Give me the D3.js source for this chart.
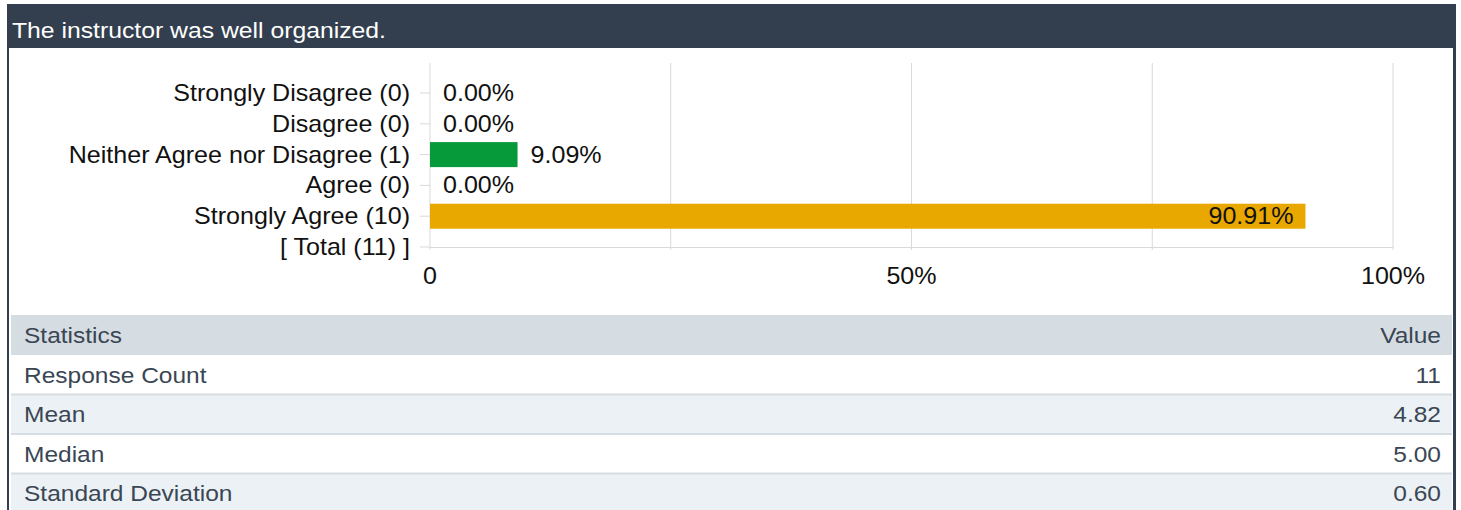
<!DOCTYPE html>
<html>
<head>
<meta charset="utf-8">
<style>
  body { margin: 0; background: #fff; }
  text { font-family: "Liberation Sans", Arial, sans-serif; }
</style>
</head>
<body>
<svg id="cont" width="1461" height="510"></svg>
<script src="https://cdn.jsdelivr.net/npm/d3@7/dist/d3.min.js"></script>
<script>
// data
var title = "The instructor was well organized.";
var categories = ["Strongly Disagree", "Disagree", "Neither Agree nor Disagree", "Agree", "Strongly Agree"];
var counts = [0, 0, 1, 0, 10];
var barColors = ["#c0392b", "#e67e22", "#079a3b", "#2e86c1", "#e8a800"];
var gridTicks = [0, 25, 50, 75, 100];
var tickLabels = ["0", "", "50%", "", "100%"];
var statNames = ["Response Count", "Mean", "Median", "Standard Deviation"];
var statValues = ["11", "4.82", "5.00", "0.60"];

var total = d3.sum(counts);
var rows = categories.map((c, i) => ({label: c + " (" + counts[i] + ")", count: counts[i], pct: counts[i] / total * 100, color: barColors[i]}));
var rowLabels = rows.map(d => d.label).concat(["[ Total (" + total + ") ]"]);

var svg = d3.select("#cont");

// text is a bit wide in the original, so stretch it horizontally
function label(sel, x, y, fs, sx) {
    return sel.append("text")
        .attr("transform", d => "translate(" + (typeof x == "function" ? x(d) : x) + "," + (typeof y == "function" ? y(d) : y) + ") scale(" + sx + ",1)")
        .attr("font-size", fs);
}

// frame + header
svg.append("rect").attr("x", 7).attr("y", 4).attr("width", 1449).attr("height", 44).attr("fill", "#333f4e");
svg.append("rect").attr("x", 7).attr("y", 48).attr("width", 2).attr("height", 462).attr("fill", "#333f4e");
svg.append("rect").attr("x", 1453).attr("y", 48).attr("width", 3).attr("height", 462).attr("fill", "#333f4e");
label(svg, 12, 38, 22.5, 1.1).attr("fill", "#fff").text(title);

var x = d3.scaleLinear().domain([0, 100]).range([430, 1393]);
var y = d3.scalePoint().domain(rowLabels).range([93, 247]);
var barH = 25;
var fs = 23, sx = 1.09;

// grid
svg.selectAll(".grid").data(gridTicks.slice(1)).enter().append("line")
    .attr("x1", d => x(d)).attr("x2", d => x(d))
    .attr("y1", 63).attr("y2", 250)
    .attr("stroke", "#d9d9d9").attr("stroke-width", 1);
svg.append("line").attr("x1", x(0)).attr("x2", x(100)).attr("y1", 247.5).attr("y2", 247.5).attr("stroke", "#d9d9d9");
svg.append("line").attr("x1", x(0)).attr("x2", x(0)).attr("y1", 63).attr("y2", 250).attr("stroke", "#d9d9d9");

// left ticks + labels
svg.selectAll(".ytick").data(rowLabels).enter().append("line")
    .attr("x1", 420).attr("x2", x(0))
    .attr("y1", d => y(d)).attr("y2", d => y(d))
    .attr("stroke", "#d9d9d9");
var yl = svg.selectAll(".ylab").data(rowLabels).enter().append("g");
label(yl, 410, d => y(d), fs, sx)
    .attr("dy", "0.35em").attr("text-anchor", "end").attr("fill", "#111")
    .text(d => d);

// bars
svg.selectAll(".bar").data(rows).enter().append("rect")
    .attr("x", x(0)).attr("y", d => y(d.label) - barH / 2)
    .attr("width", d => x(d.pct) - x(0)).attr("height", barH)
    .attr("fill", d => d.color);

var vl = svg.selectAll(".val").data(rows).enter().append("g");
label(vl, d => d.pct > 50 ? x(d.pct) - 12 : x(d.pct) + 13, d => y(d.label), fs, sx)
    .attr("dy", "0.35em")
    .attr("text-anchor", d => d.pct > 50 ? "end" : "start")
    .attr("fill", "#111")
    .text(d => d.pct.toFixed(2) + "%");

// x tick labels
var xl = svg.selectAll(".xlab").data(gridTicks).enter().append("g");
label(xl, d => x(d), 284, fs, sx)
    .attr("text-anchor", "middle").attr("fill", "#111")
    .text((d, i) => tickLabels[i]);

// stats table
var tx0 = 11, tx1 = 1452, rowH = 40, tableTop = 315;
var tfs = 21.5, tsx = 1.14, tcol = "#3a4654";
svg.append("rect").attr("x", tx0).attr("y", tableTop).attr("width", tx1 - tx0).attr("height", rowH).attr("fill", "#d6dde2");
label(svg, 24, tableTop + rowH / 2, tfs, tsx).attr("dy", "0.35em").attr("fill", tcol).text("Statistics");
label(svg, 1441, tableTop + rowH / 2, tfs, tsx).attr("dy", "0.35em").attr("text-anchor", "end").attr("fill", tcol).text("Value");

var tr = svg.selectAll(".trow").data(statNames).enter().append("g")
    .attr("transform", (d, i) => "translate(0," + (tableTop + rowH + i * 39.5) + ")");
tr.append("rect").attr("x", tx0).attr("y", 0).attr("width", tx1 - tx0).attr("height", 39.5)
    .attr("fill", (d, i) => i % 2 ? "#ecf1f5" : "#fff");
tr.filter((d, i) => i > 0).append("rect").attr("x", tx0).attr("y", -1).attr("width", tx1 - tx0).attr("height", 2).attr("fill", "#d6dde2");
label(tr, 24, 20, tfs, tsx).attr("dy", "0.35em").attr("fill", tcol).text(d => d);
label(tr, 1441, 20, tfs, tsx).attr("dy", "0.35em").attr("text-anchor", "end").attr("fill", tcol).text((d, i) => statValues[i]);
</script>
</body>
</html>
